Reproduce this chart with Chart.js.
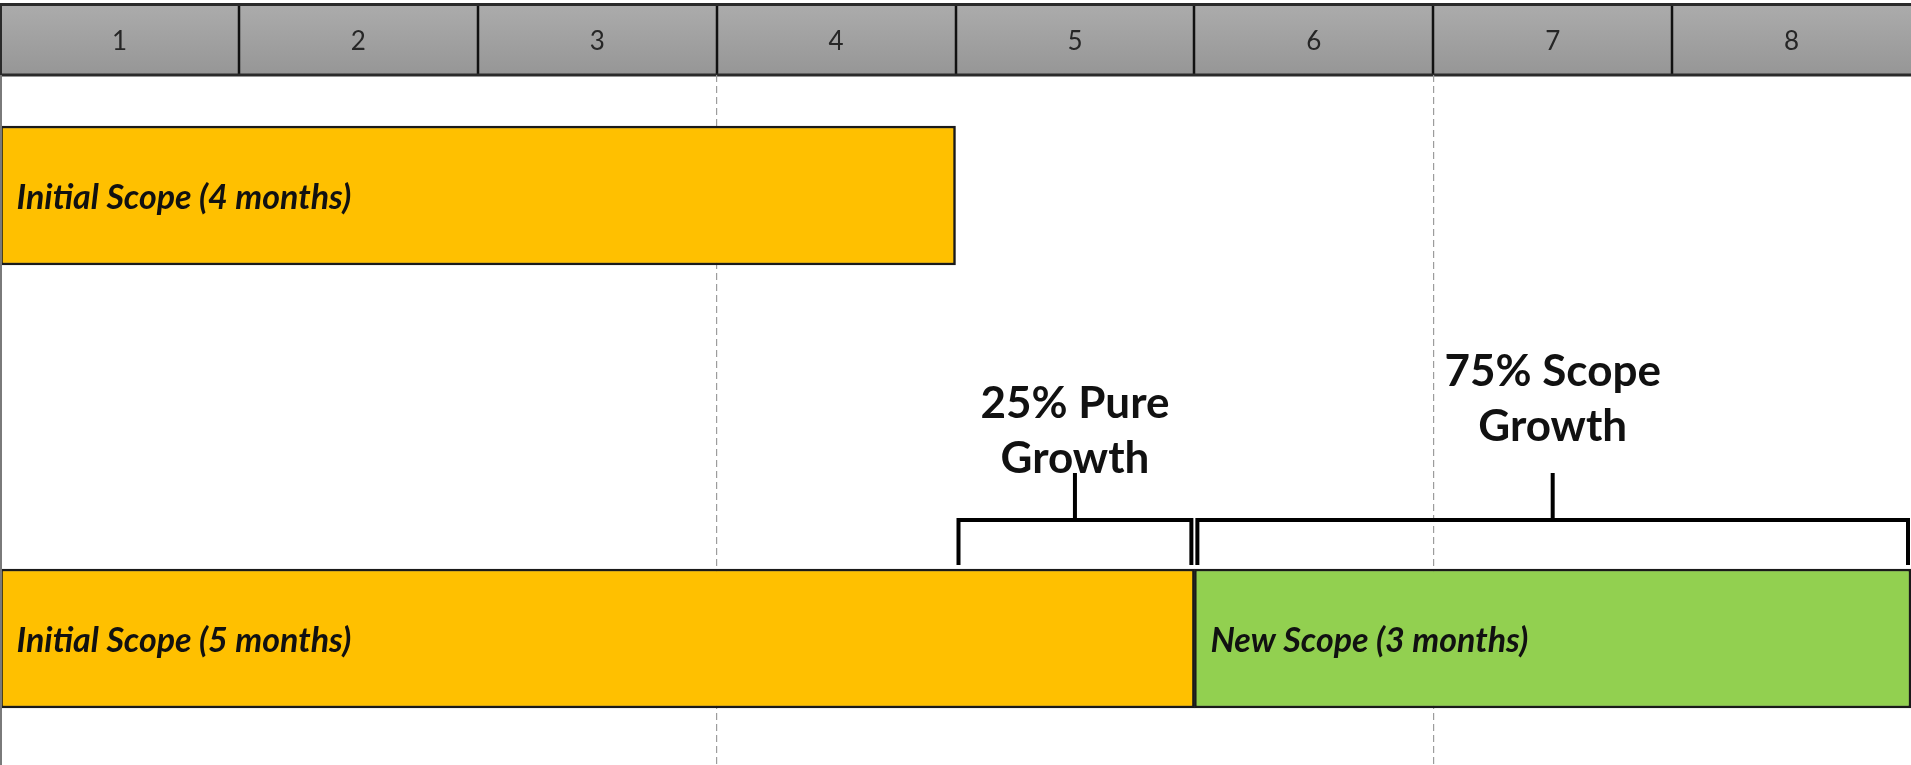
<!DOCTYPE html>
<html>
<head>
<meta charset="utf-8">
<title>Scope growth</title>
<script src="https://cdn.jsdelivr.net/npm/chart.js@4.4.1/dist/chart.umd.min.js"></script>
<style>
  html, body { margin: 0; padding: 0; background: #fff; }
  #wrap { width: 1911px; height: 765px; }
</style>
</head>
<body>
<div id="wrap"><canvas id="chart" width="1911" height="765"></canvas></div>
<script>
// header months
var months = ['1', '2', '3', '4', '5', '6', '7', '8'];
// rows: 1 = original plan, 2 = what happened
var rowPos = [1, 2];
var initialScope = [[0, 4], [0, 5]];
var initialLabels = ['Initial Scope (4 months)', 'Initial Scope (5 months)'];
var newScope = [null, [5, 8]];
var newLabels = [null, 'New Scope (3 months)'];
// growth brackets over the second row
var growthSpans = [[4, 5], [5, 8]];
var growthTexts = [['25% Pure', 'Growth'], ['75% Scope', 'Growth']];
// dashed guide lines every quarter
var guideMonths = [3, 6];

var FONT = 'Lato, "Open Sans", sans-serif';

function toPoints(ranges, labels) {
    var out = [];
    ranges.forEach(function (r, i) {
        if (r) {
            out.push({ x: r, y: rowPos[i], label: labels[i] });
        }
    });
    return out;
}

function line(ctx, x1, y1, x2, y2) {
    ctx.beginPath();
    ctx.moveTo(x1, y1);
    ctx.lineTo(x2, y2);
    ctx.stroke();
}

// gray header with month boxes
var headerPlugin = {
    id: 'header',
    beforeDraw: function (chart) {
        var ctx = chart.ctx;
        var top = chart.scales.months;
        var x = chart.scales.x;
        ctx.save();
        var g = ctx.createLinearGradient(0, top.top, 0, top.bottom);
        g.addColorStop(0, '#acacac');
        g.addColorStop(1, '#969696');
        ctx.fillStyle = g;
        ctx.fillRect(top.left, top.top, top.right - top.left, top.bottom - top.top);

        ctx.strokeStyle = '#111';
        ctx.lineWidth = 2.5;
        for (var v = 1; v < months.length; v++) {
            var px = Math.round(x.getPixelForValue(v));
            line(ctx, px, top.top, px, top.bottom);
        }
        ctx.strokeStyle = '#2a2a2a';
        ctx.lineWidth = 3;
        ctx.strokeRect(top.left + 0.5, top.top + 1.5, top.right - top.left + 4, top.bottom - top.top - 1.5);
        ctx.restore();
    }
};

// bar captions, brackets and frame
var notesPlugin = {
    id: 'notes',
    afterDatasetsDraw: function (chart) {
        var ctx = chart.ctx;
        var x = chart.scales.x;
        var area = chart.chartArea;
        ctx.save();

        // captions inside bars
        ctx.fillStyle = '#111';
        ctx.font = 'italic bold 34px ' + FONT;
        ctx.textBaseline = 'middle';
        ctx.textAlign = 'left';
        chart.data.datasets.forEach(function (ds, di) {
            chart.getDatasetMeta(di).data.forEach(function (el, i) {
                var left = Math.min(el.x, el.base);
                ctx.fillText(ds.data[i].label, left + 16, el.y + 3);
            });
        });

        // brackets above the second row
        var bar = chart.getDatasetMeta(0).data[1];
        var barTop = bar.y - bar.height / 2;
        var legBottom = barTop - 4;
        var armY = barTop - 49;
        var stemTop = barTop - 96;
        var lift = [0, 32];
        ctx.strokeStyle = '#000';
        ctx.lineWidth = 4;
        ctx.lineCap = 'butt';
        ctx.font = 'bold 44px ' + FONT;
        ctx.textAlign = 'center';
        ctx.textBaseline = 'alphabetic';
        growthSpans.forEach(function (span, i) {
            var x1 = x.getPixelForValue(span[0]) + 3;
            var x2 = Math.min(x.getPixelForValue(span[1]) - 3, area.right - 3);
            var mid = (x1 + x2) / 2;
            ctx.beginPath();
            ctx.moveTo(x1, legBottom);
            ctx.lineTo(x1, armY);
            ctx.lineTo(x2, armY);
            ctx.lineTo(x2, legBottom);
            ctx.stroke();
            line(ctx, mid, armY, mid, stemTop);
            var texts = growthTexts[i];
            texts.forEach(function (t, k) {
                var base = stemTop - lift[i] - (texts.length - 1 - k) * 55;
                ctx.fillText(t, mid, base);
            });
        });

        // left frame line
        ctx.strokeStyle = '#7a7a7a';
        ctx.lineWidth = 2;
        line(ctx, area.left + 1, area.top, area.left + 1, area.bottom);
        ctx.restore();
    }
};

var chart = new Chart(document.getElementById('chart').getContext('2d'), {
    type: 'bar',
    data: {
        datasets: [{
            label: 'Initial Scope',
            data: toPoints(initialScope, initialLabels),
            backgroundColor: '#ffc000',
            borderColor: '#1a1a1a',
            borderWidth: 2.5,
            borderSkipped: false,
            barThickness: 139,
            grouped: false
        }, {
            label: 'New Scope',
            data: toPoints(newScope, newLabels),
            backgroundColor: '#92d050',
            borderColor: '#1a1a1a',
            borderWidth: 2.5,
            borderSkipped: false,
            barThickness: 139,
            grouped: false
        }]
    },
    options: {
        indexAxis: 'y',
        responsive: false,
        animation: false,
        layout: { padding: { top: 3, left: 0, right: 0, bottom: 0 } },
        plugins: {
            legend: { display: false },
            tooltip: { enabled: false }
        },
        scales: {
            x: {
                type: 'linear',
                position: 'bottom',
                min: 0,
                max: 8,
                ticks: { display: false, stepSize: 1 },
                grid: {
                    drawTicks: false,
                    lineWidth: 1.2,
                    color: function (c) {
                        return guideMonths.indexOf(c.tick && c.tick.value) >= 0 ? '#9c9c9c' : 'rgba(0,0,0,0)';
                    }
                },
                border: { display: false, dash: [7, 4] },
                afterFit: function (s) { s.height = 0; }
            },
            months: {
                type: 'category',
                labels: months,
                position: 'top',
                offset: true,
                grid: { display: false, drawTicks: false, offset: true },
                border: { display: false },
                ticks: {
                    color: '#262626',
                    font: { family: FONT, size: 26 },
                    padding: 18,
                    maxRotation: 0,
                    autoSkip: false
                },
                afterFit: function (s) { s.height = 72; }
            },
            y: {
                type: 'linear',
                reverse: true,
                offset: false,
                min: 0.728,
                max: 2.2856,
                display: false
            }
        }
    },
    plugins: [headerPlugin, notesPlugin]
});
</script>
</body>
</html>
